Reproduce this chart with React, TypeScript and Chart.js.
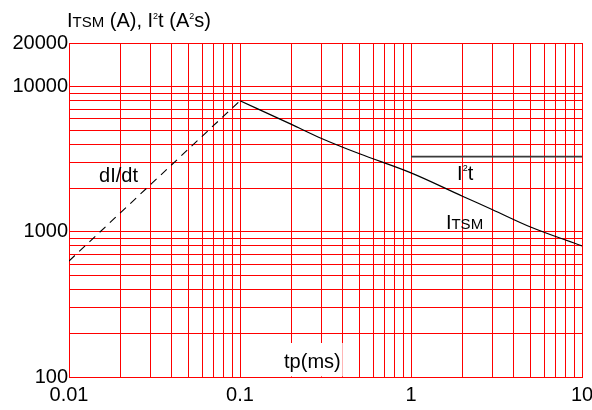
import React, { useEffect, useRef } from 'react';
import { Chart, registerables } from 'chart.js';

Chart.register(...registerables);

// ---- axis grid values and tick labels ----
const X_GRID = [
  0.01, 0.02, 0.03, 0.04, 0.05, 0.06, 0.07, 0.08, 0.09,
  0.1, 0.2, 0.3, 0.4, 0.5, 0.6, 0.7, 0.8, 0.9,
  1, 2, 3, 4, 5, 6, 7, 8, 9, 10,
];
const X_LABELS = [0.01, 0.1, 1, 10];
const Y_GRID = [
  100, 200, 300, 400, 500, 600, 700, 800, 900,
  1000, 2000, 3000, 4000, 5000, 6000, 7000, 8000, 9000,
  10000, 20000,
];
const Y_LABELS = [100, 1000, 10000, 20000];

// ---- series ----
// dI/dt limit (dashed)
const DIDT_T = [0.01, 0.1];
const DIDT_A = [630, 8000];
// ITSM (A)
const ITSM_T = [0.1, 0.2, 0.3, 0.5, 1, 2, 3, 5, 10];
const ITSM_A = [8000, 5500, 4400, 3450, 2550, 1760, 1420, 1080, 800];
// I²t (A²s)
const I2T_T = [1, 10];
const I2T_A = [3300, 3300];

const FONT = '"Liberation Sans", Arial, Helvetica, sans-serif';

type Seg = { t: string; size: number; rise?: number };

function drawRich(ctx: CanvasRenderingContext2D, x: number, y: number, segs: Seg[]) {
  let cx = x;
  for (const s of segs) {
    ctx.font = `${s.size}px ${FONT}`;
    ctx.fillText(s.t, cx, y - (s.rise ?? 0));
    cx += ctx.measureText(s.t).width;
  }
  return cx - x;
}

function richWidth(ctx: CanvasRenderingContext2D, segs: Seg[]) {
  let w = 0;
  for (const s of segs) {
    ctx.font = `${s.size}px ${FONT}`;
    w += ctx.measureText(s.t).width;
  }
  return w;
}

const textPlugin = {
  id: 'textPlugin',
  afterDraw(chart: any) {
    const { ctx, chartArea } = chart;
    const xs = chart.scales.x;
    const ys = chart.scales.y;
    ctx.save();
    ctx.fillStyle = '#000';
    ctx.textAlign = 'left';
    ctx.textBaseline = 'alphabetic';

    // axis title (top-left)
    drawRich(ctx, 67, 27, [
      { t: 'I', size: 20 },
      { t: 'TSM', size: 15 },
      { t: ' (A), I', size: 20 },
      { t: '2', size: 9, rise: 8 },
      { t: 't (A', size: 20 },
      { t: '2', size: 9, rise: 8 },
      { t: 's)', size: 20 },
    ]);

    // dI/dt label
    drawRich(ctx, xs.getPixelForValue(0.015), ys.getPixelForValue(2210), [
      { t: 'dI/dt', size: 20 },
    ]);

    // I²t label
    drawRich(ctx, xs.getPixelForValue(1.86), ys.getPixelForValue(2280), [
      { t: 'I', size: 20 },
      { t: '2', size: 9, rise: 8.5 },
      { t: 't', size: 20 },
    ]);

    // ITSM label
    drawRich(ctx, xs.getPixelForValue(1.6), ys.getPixelForValue(1050), [
      { t: 'I', size: 20 },
      { t: 'TSM', size: 15 },
    ]);

    // tp(ms) label with white background
    const tpSegs: Seg[] = [{ t: 'tp(ms)', size: 20 }];
    const w = richWidth(ctx, tpSegs);
    const cx = xs.getPixelForValue(0.265);
    ctx.fillStyle = '#fff';
    ctx.fillRect(cx - w / 2 - 2, chartArea.bottom - 34, w + 4, 33.4);
    ctx.fillStyle = '#000';
    drawRich(ctx, cx - w / 2, chartArea.bottom - 9, tpSegs);

    ctx.restore();
  },
};

export default function App() {
  const ref = useRef<HTMLCanvasElement | null>(null);

  useEffect(() => {
    const canvas = ref.current;
    if (!canvas) return;
    const toXY = (xsv: number[], ysv: number[]) => xsv.map((x, i) => ({ x, y: ysv[i] }));

    const chart = new Chart(canvas, {
      type: 'line',
      data: {
        datasets: [
          {
            label: 'I2t',
            data: toXY(I2T_T, I2T_A),
            borderColor: '#3a3a3a',
            borderWidth: 1.6,
            pointRadius: 0,
            fill: false,
          },
          {
            label: 'ITSM',
            data: toXY(ITSM_T, ITSM_A),
            borderColor: '#000',
            borderWidth: 1.2,
            pointRadius: 0,
            fill: false,
            cubicInterpolationMode: 'monotone',
          },
          {
            label: 'dI/dt',
            data: toXY(DIDT_T, DIDT_A),
            borderColor: '#000',
            borderWidth: 1.1,
            borderDash: [8, 6],
            pointRadius: 0,
            fill: false,
          },
        ],
      },
      options: {
        responsive: false,
        animation: false,
        events: [],
        layout: { padding: { left: 0, right: 10, top: 43, bottom: 0 } },
        plugins: {
          legend: { display: false },
          tooltip: { enabled: false },
          title: { display: false },
        },
        scales: {
          x: {
            type: 'logarithmic',
            min: 0.01,
            max: 10,
            afterBuildTicks: (s: any) => {
              s.ticks = X_GRID.map((v) => ({ value: v }));
            },
            afterFit: (s: any) => {
              s.height = 33;
              s.paddingRight = 10;
              s.paddingLeft = 0;
            },
            ticks: {
              autoSkip: false,
              maxRotation: 0,
              minRotation: 0,
              padding: 6,
              color: '#000',
              font: { family: FONT, size: 20 },
              callback: (v: any) => (X_LABELS.includes(Number(v)) ? String(v) : ''),
            },
            grid: { color: '#ff0000', lineWidth: 1, drawTicks: false },
            border: { color: '#ff0000', width: 1 },
          },
          y: {
            type: 'logarithmic',
            min: 100,
            max: 20000,
            afterBuildTicks: (s: any) => {
              s.ticks = Y_GRID.map((v) => ({ value: v }));
            },
            afterFit: (s: any) => {
              s.width = 69;
            },
            ticks: {
              autoSkip: false,
              padding: 1,
              color: '#000',
              font: { family: FONT, size: 20 },
              callback: (v: any) => (Y_LABELS.includes(Number(v)) ? String(v) : ''),
            },
            grid: { color: '#ff0000', lineWidth: 1, drawTicks: false },
            border: { color: '#ff0000', width: 1 },
          },
        },
      },
      plugins: [textPlugin],
    } as any);

    return () => chart.destroy();
  }, []);

  return (
    <div style={{ position: 'fixed', left: 0, top: 0, width: 592, height: 410, background: '#fff' }}>
      <canvas ref={ref} width={592} height={410} style={{ display: 'block', width: 592, height: 410 }} />
    </div>
  );
}
